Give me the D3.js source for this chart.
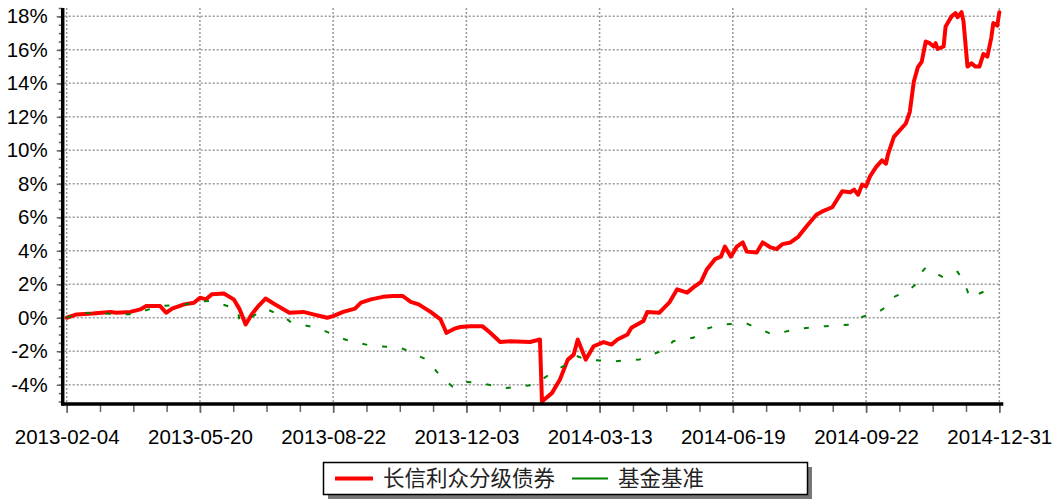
<!DOCTYPE html>
<html>
<head>
<meta charset="utf-8">
<script src="https://cdn.jsdelivr.net/npm/d3@7"></script>
<style>
  body { margin: 0; background: #fff; }
  svg { display: block; }
</style>
</head>
<body>
<svg></svg>
<script>
const w = 1054;
const h = 501;
const svg = d3.select('svg').attr('width', w).attr('height', h);

// trading-day index of each label (67 days between labels)
const dateLabels = ['2013-02-04', '2013-05-20', '2013-08-22', '2013-12-03',
  '2014-03-13', '2014-06-19', '2014-09-22', '2014-12-31'];
const labelDays = [0, 67, 134, 201, 268, 335, 402, 469];
const yTicks = [-4, -2, 0, 2, 4, 6, 8, 10, 12, 14, 16, 18];

// 长信利众分级债券 (day index, cumulative return %)
const fundDays = [0, 5, 13, 22, 25, 32, 37, 40, 47, 50, 53, 59, 64, 67, 70, 73, 79, 84, 87, 90,
  93, 96, 100, 104, 107, 112, 119, 124, 131, 134, 139, 145, 148, 153, 159, 164, 169, 173, 177, 183,
  188, 191, 195, 198, 203, 209, 213, 218, 223, 233, 238, 239, 244, 248, 252, 255, 257, 261, 265, 270,
  274, 277, 282, 284, 290, 292, 298, 303, 307, 312, 315, 319, 322, 326, 329, 331, 334, 337, 340, 342,
  347, 350, 354, 357, 360, 364, 368, 372, 377, 380, 385, 390, 394, 396, 398, 400, 402, 404, 407, 410,
  412, 413, 416, 422, 424, 426, 428, 430, 432, 434, 436, 437, 438, 441, 442, 445, 447, 448, 450, 451,
  453, 455, 457, 459, 461, 463, 465, 466, 468, 469];
const fundVals = [0.0, 0.2, 0.25, 0.35, 0.3, 0.35, 0.5, 0.7, 0.7, 0.3, 0.55, 0.8, 0.9, 1.2, 1.1, 1.4, 1.45, 1.1, 0.5, -0.4,
  0.2, 0.65, 1.15, 0.85, 0.65, 0.3, 0.35, 0.2, 0.0, 0.1, 0.35, 0.55, 0.9, 1.1, 1.25, 1.3, 1.3, 0.95, 0.8, 0.35,
  -0.1, -0.9, -0.65, -0.55, -0.5, -0.5, -0.9, -1.45, -1.4, -1.45, -1.3, -5.0, -4.5, -3.7, -2.5, -2.2, -1.3, -2.5, -1.7, -1.45,
  -1.6, -1.3, -1.0, -0.6, -0.2, 0.35, 0.3, 0.9, 1.7, 1.5, 1.8, 2.15, 2.9, 3.5, 3.65, 4.25, 3.65, 4.25, 4.5, 3.95,
  3.9, 4.5, 4.2, 4.1, 4.4, 4.5, 4.85, 5.45, 6.15, 6.35, 6.6, 7.55, 7.5, 7.65, 7.35, 7.95, 7.85, 8.45, 9.0, 9.4,
  9.2, 9.75, 10.8, 11.6, 12.3, 14.1, 14.95, 15.3, 16.5, 16.4, 16.2, 16.4, 16.05, 16.2, 17.4, 18.0, 18.2, 17.95, 18.25, 17.7,
  15.0, 15.2, 15.0, 15.0, 15.75, 15.6, 16.75, 17.6, 17.45, 18.25];

// 基金基准
const benchDays = [0, 6, 19, 33, 47, 60, 66, 73, 86, 87, 91, 100, 110, 113, 126, 140, 154, 167, 172, 181,
  184, 188, 194, 198, 208, 221, 235, 247, 255, 257, 261, 275, 288, 292, 301, 305, 315, 322, 329, 342,
  355, 368, 382, 395, 400, 409, 413, 416, 423, 427, 428, 432, 435, 438, 441, 448, 451, 453, 454, 462,
  465];
const benchVals = [0.0, 0.3, 0.25, 0.2, 0.7, 0.8, 0.97, 1.0, 0.5, -0.2, -0.1, 0.55, 0.0, -0.3, -0.6, -1.3, -1.7, -1.75, -2.0, -2.5,
  -2.9, -3.5, -4.1, -3.8, -3.9, -4.2, -4.0, -3.05, -2.6, -2.3, -2.5, -2.6, -2.5, -2.3, -1.9, -1.4, -1.2, -0.65, -0.4, -0.35,
  -1.0, -0.65, -0.5, -0.4, 0.05, 0.4, 0.75, 1.25, 1.6, 2.0, 2.45, 3.0, 2.75, 2.6, 2.4, 2.75, 2.15, 1.6, 1.2, 1.6,
  1.9];

const seriesNames = ['长信利众分级债券', '基金基准'];
const colors = ['#ff0000', '#008000'];

const plotL = 66.7, plotR = 999.3, plotT = 8, plotB = 404;

const x = d3.scaleLinear().domain([0, 469]).range([plotL, plotR]);
const y = d3.scaleLinear().domain([-5.15, 18.5]).range([plotB, plotT]);

// grid
const grid = svg.append('g')
  .attr('stroke', '#999').attr('stroke-width', 1.5).attr('stroke-dasharray', '2,2');
grid.selectAll('.hg').data(yTicks).enter().append('line')
  .attr('x1', plotL - 2).attr('x2', plotR)
  .attr('y1', (d) => y(d)).attr('y2', (d) => y(d));
grid.selectAll('.vg').data(labelDays).enter().append('line')
  .attr('x1', (d) => x(d)).attr('x2', (d) => x(d))
  .attr('y1', plotT).attr('y2', plotB);

// series
const line = d3.line().x((d) => x(d[0])).y((d) => y(d[1]));
const fundData = fundDays.map((d, i) => [d, fundVals[i]]);
const benchData = benchDays.map((d, i) => [d, benchVals[i]]);

svg.append('path').datum(fundData)
  .attr('d', line).attr('fill', 'none')
  .attr('stroke', colors[0]).attr('stroke-width', 4)
  .attr('stroke-linejoin', 'round').attr('stroke-linecap', 'round');
svg.append('path').datum(benchData)
  .attr('d', line).attr('fill', 'none')
  .attr('stroke', colors[1]).attr('stroke-width', 2)
  .attr('stroke-dasharray', '5,15');

// y axis
const minorY = d3.range(-5, 18.51, 0.5);
const yMinor = svg.append('g').attr('transform', `translate(${plotL - 4}, 0)`)
  .call(d3.axisLeft(y).tickValues(minorY).tickSize(4).tickFormat(''));
yMinor.select('.domain').remove();
yMinor.selectAll('line').attr('stroke', '#666').attr('stroke-width', 1.5);

const yAxis = svg.append('g').attr('transform', `translate(${plotL - 4}, 0)`)
  .call(d3.axisLeft(y).tickValues(yTicks).tickSize(6).tickPadding(9)
    .tickFormat((d) => d + '%'));
yAxis.select('.domain').remove();
yAxis.selectAll('line').attr('stroke', '#666').attr('stroke-width', 1.5);
yAxis.selectAll('text').attr('font-family', 'Liberation Sans, Arial, sans-serif')
  .attr('font-size', 20.5).attr('fill', '#000');

// x axis
const minorX = d3.range(0, 469.1, 67 / 4);
const xMinor = svg.append('g').attr('transform', `translate(0, ${plotB})`)
  .call(d3.axisBottom(x).tickValues(minorX).tickSize(8).tickFormat(''));
xMinor.select('.domain').remove();
xMinor.selectAll('line').attr('stroke', '#666').attr('stroke-width', 1.5);

const xAxis = svg.append('g').attr('transform', `translate(0, ${plotB})`)
  .call(d3.axisBottom(x).tickValues(labelDays).tickSize(9).tickPadding(16)
    .tickFormat((d, i) => dateLabels[i]));
xAxis.select('.domain').remove();
xAxis.selectAll('line').attr('stroke', '#666').attr('stroke-width', 1.5);
xAxis.selectAll('text').attr('font-family', 'Liberation Sans, Arial, sans-serif')
  .attr('font-size', 20.5).attr('fill', '#000');

// axis lines
svg.append('line').attr('x1', plotL - 4).attr('x2', plotL - 4)
  .attr('y1', plotT).attr('y2', plotB + 1.5)
  .attr('stroke', '#000').attr('stroke-width', 3.5);
svg.append('line').attr('x1', plotL - 5.5).attr('x2', plotR + 4)
  .attr('y1', plotB).attr('y2', plotB)
  .attr('stroke', '#000').attr('stroke-width', 3.5);

// legend
const lg = svg.append('g');
lg.append('rect').attr('x', 328).attr('y', 467).attr('width', 484).attr('height', 32)
  .attr('fill', '#777');
lg.append('rect').attr('x', 323.5).attr('y', 462.5).attr('width', 484).attr('height', 32)
  .attr('fill', '#fff').attr('stroke', '#000').attr('stroke-width', 1.5);
lg.append('line').attr('x1', 335).attr('x2', 373).attr('y1', 478.5).attr('y2', 478.5)
  .attr('stroke', colors[0]).attr('stroke-width', 4);
lg.append('text').attr('x', 383).attr('y', 486)
  .attr('font-family', 'Noto Sans CJK SC, sans-serif').attr('font-size', 21.5)
  .attr('fill', '#222').text(seriesNames[0]);
lg.append('line').attr('x1', 572).attr('x2', 608).attr('y1', 478.5).attr('y2', 478.5)
  .attr('stroke', colors[1]).attr('stroke-width', 2);
lg.append('text').attr('x', 618).attr('y', 486)
  .attr('font-family', 'Noto Sans CJK SC, sans-serif').attr('font-size', 21.5)
  .attr('fill', '#222').text(seriesNames[1]);
</script>
</body>
</html>
